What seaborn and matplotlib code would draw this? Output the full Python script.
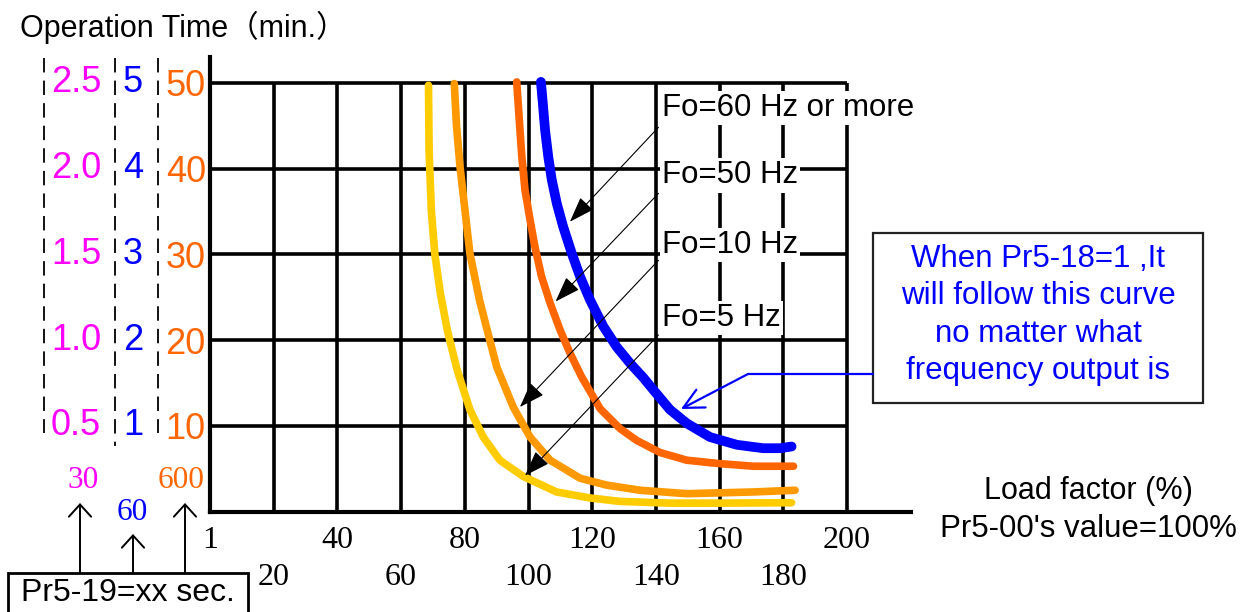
import matplotlib
matplotlib.use("Agg")
import matplotlib.pyplot as plt
import seaborn as sns
import pandas as pd
from matplotlib.patches import Rectangle

sns.set_theme(style="white")
SANS = ["Liberation Sans", "Noto Sans CJK SC", "DejaVu Sans"]
SERIF = ["Liberation Serif", "DejaVu Serif"]
plt.rcParams["font.family"] = SANS

# ---------------- data ----------------
x_5hz = [68.6, 68.8, 69.5, 70.6, 72.3, 74.6, 77.6, 81.6, 85.8, 91.0, 98.4, 108.8, 119.3, 128.7, 144.4, 160.1, 182.6]
y_5hz = [49.7, 42.0, 35.0, 30.0, 25.5, 21.0, 16.5, 11.9, 8.7, 6.0, 4.1, 2.3, 1.6, 1.2, 1.0, 1.0, 1.05]

x_10hz = [76.7, 77.4, 78.5, 81.6, 84.6, 86.8, 90.0, 95.2, 100.5, 106.8, 116.2, 124.5, 135.0, 149.7, 160.1, 170.6, 183.7]
y_10hz = [49.9, 45.0, 40.2, 30.1, 24.7, 21.5, 16.9, 12.2, 8.7, 6.0, 3.9, 3.1, 2.5, 2.1, 2.2, 2.3, 2.5]

x_50hz = [96.3, 97.1, 97.9, 98.9, 100.5, 102.0, 104.1, 106.8, 109.9, 113.0, 116.7, 122.5, 128.7, 134.0, 141.3,
          149.7, 160.1, 170.6, 183.2]
y_50hz = [50.1, 45.7, 41.4, 37.5, 34.0, 30.9, 27.4, 24.3, 21.2, 18.5, 15.7, 12.0, 9.7, 8.3, 6.9,
          6.0, 5.6, 5.3, 5.3]

x_60hz = [103.9, 104.5, 105.2, 106.2, 107.3, 108.9, 110.9, 113.6, 116.2, 119.3, 123.5, 127.7, 131.9, 136.1,
          139.2, 144.4, 149.7, 157.0, 165.4, 173.7, 179.0, 182.6]
y_60hz = [50.1, 47.6, 44.5, 41.4, 38.7, 35.9, 33.2, 30.1, 27.4, 24.7, 21.6, 19.2, 17.3, 15.6,
          14.2, 11.9, 10.3, 8.7, 7.8, 7.4, 7.4, 7.6]

curve_names = ["Fo=5 Hz", "Fo=10 Hz", "Fo=50 Hz", "Fo=60 Hz or more"]
curve_colors = ["#FFCC00", "#FF9900", "#FF6600", "#0000FF"]

x_ticks_row1 = [0, 40, 80, 120, 160, 200]
x_labels_row1 = ["1", "40", "80", "120", "160", "200"]
x_ticks_row2 = [20, 60, 100, 140, 180]
x_labels_row2 = ["20", "60", "100", "140", "180"]

y_ticks = [50, 40, 30, 20, 10]
y_labels_min = ["50", "40", "30", "20", "10"]        # orange, for 600 s
y_labels_mid = ["5", "4", "3", "2", "1"]             # blue, for 60 s
y_labels_low = ["2.5", "2.0", "1.5", "1.0", "0.5"]   # magenta, for 30 s

pr519_values = ["30", "60", "600"]

# label anchors and arrow tips (data coords)
label_y = [22.6, 31.1, 39.2, 47.05]
arrow_start_y = [20.6, 29.3, 37.1, 44.8]
arrow_tip_x = [98.9, 97.3, 108.5, 113.0]
arrow_tip_y = [4.2, 12.2, 24.5, 33.8]

df = pd.DataFrame({
    "load": x_5hz + x_10hz + x_50hz + x_60hz,
    "time": y_5hz + y_10hz + y_50hz + y_60hz,
    "curve": [curve_names[0]] * len(x_5hz) + [curve_names[1]] * len(x_10hz)
             + [curve_names[2]] * len(x_50hz) + [curve_names[3]] * len(x_60hz),
})

# ---------------- figure ----------------
W, H = 1249, 612
fig = plt.figure(figsize=(W / 100, H / 100), dpi=100)
fig.patch.set_facecolor("white")
ax = fig.add_axes([210 / W, (H - 511.7) / H, 700.7 / W, (511.7 - 57) / H])
ax.set_facecolor("white")
ax.set_xlim(0, 220)
ax.set_ylim(0, 53)

# grid
ax.hlines(y_ticks, 0, 200, color="black", lw=2.6, zorder=1)
ax.vlines(x_ticks_row1[1:] + x_ticks_row2, 0, 50, color="black", lw=2.6, zorder=1)

for s in ["top", "right"]:
    ax.spines[s].set_visible(False)
for s in ["left", "bottom"]:
    ax.spines[s].set_color("black")
    ax.spines[s].set_linewidth(3.0)
    ax.spines[s].set_zorder(2)

# curves
widths = [5.5, 5.5, 5.5, 7.0]
for name, col, lw in zip(curve_names, curve_colors, widths):
    sub = df[df["curve"] == name]
    sns.lineplot(data=sub, x="load", y="time", color=col, sort=False, estimator=None,
                 lw=lw, ax=ax, legend=False, zorder=4,
                 solid_capstyle="round", solid_joinstyle="round")
ax.set_xlabel("")
ax.set_ylabel("")

# x ticks (two rows)
ax.set_xticks(x_ticks_row1)
ax.set_xticklabels(x_labels_row1, family=SERIF, fontsize=23, color="black")
ax.set_xticks(x_ticks_row2, minor=True)
ax.set_xticklabels(x_labels_row2, minor=True, family=SERIF, fontsize=23, color="black")
ax.tick_params(axis="x", which="major", length=0, pad=10.5)
ax.tick_params(axis="x", which="minor", length=0, pad=37)

# y ticks
ax.set_yticks(y_ticks)
ax.set_yticklabels(y_labels_min, fontsize=26, color="#FF6600")
ax.tick_params(axis="y", length=0, pad=3)
ytr = ax.get_yaxis_transform()
for yv, lb in zip(y_ticks, y_labels_mid):
    ax.text(-0.11, yv, lb, transform=ytr, ha="center", va="center", fontsize=26, color="#0000FF")
for yv, lb in zip(y_ticks, y_labels_low):
    ax.text(-0.191, yv, lb, transform=ytr, ha="center", va="center", fontsize=26, color="#FF00FF")

# Fo labels and arrows
for name, ly, sy, tx, ty in zip(curve_names, label_y, arrow_start_y, arrow_tip_x, arrow_tip_y):
    ax.text(142.0, ly, name, ha="left", va="center", fontsize=22.5, color="black", zorder=3,
            bbox=dict(facecolor="white", edgecolor="none", pad=1.5))
    ax.annotate("", xy=(tx, ty), xytext=(140.8, sy),
                arrowprops=dict(arrowstyle="-|>,head_length=0.8,head_width=0.28", mutation_scale=20,
                                lw=0.8, color="black", shrinkA=0, shrinkB=0), zorder=5)

# ---------------- overlay (pixel coordinates) ----------------
ov = fig.add_axes([0, 0, 1, 1], zorder=5)
ov.set_xlim(0, W)
ov.set_ylim(H, 0)
ov.axis("off")
ov.patch.set_alpha(0)

ov.text(20, 27, "Operation Time（min.）", ha="left", va="center", fontsize=22, color="black")

# dashed column separators
ov.plot([44, 44], [58, 433], color="black", lw=1.3, ls=(0, (8, 4.5)))
ov.plot([115, 115], [58, 446], color="black", lw=1.3, ls=(0, (8, 4.5)))
ov.plot([158, 158], [58, 433], color="black", lw=1.3, ls=(0, (8, 4.5)))

# Pr5-19 values and arrows
ov.text(83, 480, pr519_values[0], family=SERIF, fontsize=22.5, color="#FF00FF", ha="center", va="center")
ov.text(132, 513, pr519_values[1], family=SERIF, fontsize=22.5, color="#0000FF", ha="center", va="center")
ov.text(181, 480, pr519_values[2], family=SERIF, fontsize=22.5, color="#FF6600", ha="center", va="center")
for xa, ya in [(80, 503), (133, 534), (185, 503)]:
    ov.annotate("", xy=(xa, ya), xytext=(xa, 573),
                arrowprops=dict(arrowstyle="->,head_length=0.55,head_width=0.5", mutation_scale=16,
                                lw=1.4, color="black", shrinkA=0, shrinkB=0))
ov.add_patch(Rectangle((8, 573), 240, 45, facecolor="white", edgecolor="black", lw=2.0))
ov.text(128, 593, "Pr5-19=xx sec.", ha="center", va="center", fontsize=23, color="black")

# blue note box
ov.add_patch(Rectangle((873, 233), 330, 170, facecolor="white", edgecolor="#222222", lw=1.6))
ov.text(1038, 315, "When Pr5-18=1 ,It\nwill follow this curve\nno matter what\nfrequency output is",
        ha="center", va="center", multialignment="center", fontsize=22.5, color="#0000FF",
        linespacing=1.33)
ov.plot([873, 748], [374, 374], color="#0000FF", lw=1.6)
ov.annotate("", xy=(681, 409), xytext=(748, 374),
            arrowprops=dict(arrowstyle="->,head_length=0.9,head_width=0.45", mutation_scale=16,
                            lw=1.6, color="#0000FF", shrinkA=0, shrinkB=0))

# x-axis caption
ov.text(1088, 491, "Load factor (%)", ha="center", va="center", fontsize=22, color="black")
ov.text(1088, 529, "Pr5-00's value=100%", ha="center", va="center", fontsize=22.5, color="black")

fig.savefig("out.png", dpi=100, facecolor="white")
